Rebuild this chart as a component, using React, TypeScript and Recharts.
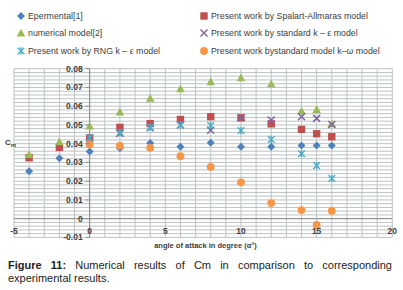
import { ScatterChart, Scatter, XAxis, YAxis, CartesianGrid, ReferenceLine } from 'recharts';

const angles = [-4, -2, 0, 2, 4, 6, 8, 10, 12, 14, 15, 16];
const expAngles = angles;
const expCm = [0.0253, 0.0322, 0.0358, 0.0375, 0.0404, 0.0383, 0.0405, 0.0383, 0.0383, 0.039, 0.039, 0.039];
const saAngles = angles;
const saCm = [0.0325, 0.038, 0.0431, 0.0487, 0.0507, 0.0529, 0.0544, 0.0538, 0.0506, 0.0476, 0.0453, 0.0437];
const numAngles = angles;
const numCm = [0.0342, 0.041, 0.0494, 0.0569, 0.0642, 0.0693, 0.0731, 0.0752, 0.072, 0.0574, 0.0583, 0.0506];
const stdAngles = [0, 2, 4, 6, 8, 10, 12, 14, 15, 16];
const stdCm = [0.043, 0.0455, 0.0485, 0.05, 0.0472, 0.0538, 0.0526, 0.0544, 0.0535, 0.0502];
const rngAngles = [0, 2, 4, 6, 8, 10, 12, 14, 15, 16];
const rngCm = [0.0432, 0.046, 0.0488, 0.0499, 0.0497, 0.047, 0.0422, 0.0346, 0.0283, 0.0214];
const kwAngles = [0, 2, 4, 6, 8, 10, 12, 14, 15, 16];
const kwCm = [0.0396, 0.0389, 0.0378, 0.0333, 0.0276, 0.0194, 0.0083, 0.0046, -0.0033, 0.0042];

const xLabels = [-5, 0, 5, 10, 15, 20];
const yLabels = [-0.01, 0, 0.01, 0.02, 0.03, 0.04, 0.05, 0.06, 0.07, 0.08];
// grid every 1 deg and every 0.002
const xGrid = Array.from({ length: 26 }, (_, i) => i - 5);
const yGrid = Array.from({ length: 46 }, (_, i) => Math.round((i * 2 - 10)) / 1000);

const W = 403, H = 290;
const PLOT = { left: 14, right: 392.3, top: 68.7, bottom: 237.4 };
const X_AXIS_H = 20, Y_AXIS_W = 10;
const M = { top: PLOT.top, right: W - PLOT.right, bottom: H - PLOT.bottom - X_AXIS_H, left: PLOT.left - Y_AXIS_W };
const X0 = PLOT.left + (5 / 25) * (PLOT.right - PLOT.left);
const FONT = '"Liberation Sans", Arial, sans-serif';
const GRID = '#bcc3c3';
const AXIS = '#8a8a8a';

const toPts = (xs: number[], ys: number[]) => xs.map((x, i) => ({ x, y: ys[i] }));

type Mk = { cx?: number; cy?: number };
const Diamond = (c: string) => ({ cx = 0, cy = 0 }: Mk) => (
  <polygon points={`${cx},${cy - 4} ${cx + 4},${cy} ${cx},${cy + 4} ${cx - 4},${cy}`} fill={c} />
);
const Square = (c: string) => ({ cx = 0, cy = 0 }: Mk) => (
  <rect x={cx - 3.7} y={cy - 3.7} width={7.4} height={7.4} fill={c} />
);
const Triangle = (c: string) => ({ cx = 0, cy = 0 }: Mk) => (
  <polygon points={`${cx},${cy - 4.3} ${cx + 4.3},${cy + 3.5} ${cx - 4.3},${cy + 3.5}`} fill={c} />
);
const XMark = (c: string) => ({ cx = 0, cy = 0 }: Mk) => (
  <g stroke={c} strokeWidth={1.5}>
    <line x1={cx - 3.5} y1={cy - 3.5} x2={cx + 3.5} y2={cy + 3.5} />
    <line x1={cx - 3.5} y1={cy + 3.5} x2={cx + 3.5} y2={cy - 3.5} />
  </g>
);
const Star = (c: string) => ({ cx = 0, cy = 0 }: Mk) => (
  <g stroke={c} strokeWidth={1.4}>
    <line x1={cx - 3.3} y1={cy - 3.3} x2={cx + 3.3} y2={cy + 3.3} />
    <line x1={cx - 3.3} y1={cy + 3.3} x2={cx + 3.3} y2={cy - 3.3} />
    <line x1={cx} y1={cy - 3.8} x2={cx} y2={cy + 3.8} />
  </g>
);
const Circle = (c: string) => ({ cx = 0, cy = 0 }: Mk) => <circle cx={cx} cy={cy} r={3.9} fill={c} />;

const series = [
  { name: 'Epermental[1]', data: toPts(expAngles, expCm), shape: Diamond('#4f81bd') },
  { name: 'Present work by Spalart-Allmaras model', data: toPts(saAngles, saCm), shape: Square('#c0504d') },
  { name: 'numerical model[2]', data: toPts(numAngles, numCm), shape: Triangle('#9bbb59') },
  { name: 'Present work by standard k \u2013 \u03b5 model', data: toPts(stdAngles, stdCm), shape: XMark('#8064a2') },
  { name: 'Present work by RNG k \u2013 \u03b5 model', data: toPts(rngAngles, rngCm), shape: Star('#4bacc6') },
  { name: 'Present work bystandard model k\u2013\u03c9 model', data: toPts(kwAngles, kwCm), shape: Circle('#f79646') },
];

const YTick = (p: any) => {
  const v = p.payload.value;
  if (!yLabels.some((l) => Math.abs(l - v) < 1e-6)) return null;
  return (
    <g>
      <line x1={X0 - 4} y1={p.y} x2={X0} y2={p.y} stroke={AXIS} />
      <text x={X0 - 7} y={p.y} dy={3} textAnchor="end" fontSize={8.5} fontWeight={700} fill="#404040" fontFamily={FONT}>
        {Math.abs(v) < 1e-9 ? '0' : v.toFixed(2)}
      </text>
    </g>
  );
};

const XTick = (p: any) => {
  const v = p.payload.value;
  if (!xLabels.includes(v)) return null;
  return (
    <text x={p.x} y={PLOT.bottom - 3.5} textAnchor="middle" fontSize={8.5} fontWeight={700} fill="#404040" fontFamily={FONT}>
      {v}
    </text>
  );
};

export default function App() {
  return (
    <div style={{ position: 'absolute', left: 0, top: 0, width: W, height: H, background: '#fff', fontFamily: FONT }}>
      {series.map((s, i) => (
        <div key={s.name} style={{
          position: 'absolute', left: i % 2 === 0 ? 16 : 199, top: 9.5 + Math.floor(i / 2) * 17.8,
          display: 'flex', alignItems: 'center', fontSize: 8.8, color: '#404040', whiteSpace: 'nowrap',
        }}>
          <svg width={10} height={12} style={{ marginRight: 2 }}>
            <s.shape cx={5} cy={6} />
          </svg>
          {s.name}
        </div>
      ))}
      <ScatterChart width={W} height={H} margin={M} style={{ position: 'absolute', left: 0, top: 0 }}>
        <CartesianGrid stroke={GRID} strokeWidth={1} />
        <XAxis type="number" dataKey="x" domain={[-5, 20]} ticks={xGrid} height={X_AXIS_H}
          axisLine={false} tickLine={false} tick={<XTick />} interval={0} />
        <YAxis type="number" dataKey="y" domain={[-0.01, 0.08]} ticks={yGrid} width={Y_AXIS_W}
          axisLine={false} tickLine={false} tick={<YTick />} interval={0} />
        <ReferenceLine x={0} stroke={AXIS} />
        <ReferenceLine y={0} stroke={AXIS} />
        {series.map((s) => (
          <Scatter key={s.name} name={s.name} data={s.data} shape={s.shape} isAnimationActive={false} />
        ))}
      </ScatterChart>
      <div style={{ position: 'absolute', left: 5, top: 138, fontSize: 8, fontWeight: 700, color: '#404040', lineHeight: '10px' }}>
        C<span style={{ fontSize: 6, verticalAlign: -2 }}>m</span>
      </div>
      <div style={{ position: 'absolute', left: 0, width: W, top: 241, textAlign: 'center', fontSize: 7.5, fontWeight: 700, color: '#404040', paddingLeft: 8, boxSizing: 'border-box' }}>
        angle of attack in degree (α°)
      </div>
      <div style={{ position: 'absolute', left: 8, width: 384, top: 259, fontSize: 11, lineHeight: '12.5px', color: '#222' }}>
        <div style={{ textAlign: 'justify', textAlignLast: 'justify' }}>
          <b>Figure 11: </b>Numerical results of Cm in comparison to corresponding
        </div>
        <div>experimental results.</div>
      </div>
    </div>
  );
}
